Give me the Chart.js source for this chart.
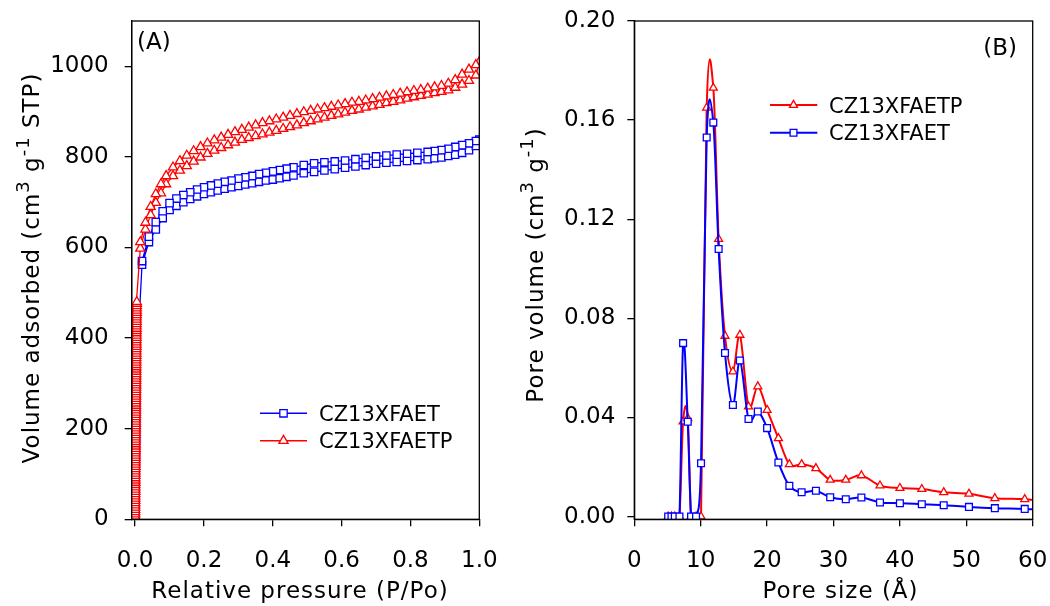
<!DOCTYPE html>
<html>
<head>
<meta charset="utf-8">
<script src="https://cdn.jsdelivr.net/npm/chart.js@4.4.0/dist/chart.umd.min.js"></script>
<style>
  body { margin: 0; background: #fff; }
  #chartA { position: absolute; left: 0; top: 0; }
  #chartB { position: absolute; left: 520px; top: 0; }
</style>
</head>
<body>
<canvas id="chartA" width="520" height="606"></canvas>
<canvas id="chartB" width="530" height="606"></canvas>
<script>
// ---- panel (A): N2 isotherms ----
const seriesA = ['CZ13XFAET', 'CZ13XFAETP']

// near-zero pressure points (dense vertical stack)
const blueStackP = [0.0000, 0.0002, 0.0004, 0.0006, 0.0008, 0.0010, 0.0012, 0.0014, 0.0016, 0.0017, 0.0018, 0.0019, 0.0020, 0.0021,
    0.0022, 0.0023, 0.0024, 0.0025, 0.0026, 0.0027, 0.0028, 0.0029, 0.0030, 0.0031, 0.0032, 0.0034, 0.0036, 0.0040]
const blueStackV = [1, 10, 21, 33, 44, 56, 68, 80, 92, 104, 116, 128, 140, 152,
    164, 176, 188, 200, 212, 224, 236, 248, 260, 272, 284, 296, 308, 320]

const redStackP = [0.00000, 0.00005, 0.00010, 0.00015, 0.00020, 0.00025, 0.00030, 0.00035, 0.00040, 0.00045,
    0.00050, 0.00055, 0.00060, 0.00065, 0.00070, 0.00075, 0.00080, 0.00085, 0.00090, 0.00095,
    0.00100, 0.00105, 0.00110, 0.00115, 0.00120, 0.00125, 0.00130, 0.00135, 0.00140, 0.00145,
    0.00150, 0.00155, 0.00160, 0.00165, 0.00170, 0.00175, 0.00180, 0.00185, 0.00190, 0.00195,
    0.00200, 0.00205, 0.00210, 0.00215, 0.00220, 0.00225, 0.00230, 0.00235, 0.00240, 0.00245,
    0.00250, 0.00255, 0.00260, 0.00265, 0.00270, 0.00275, 0.00280, 0.00285, 0.00290, 0.00295,
    0.00300, 0.00305, 0.00310, 0.00315, 0.00320, 0.00325, 0.00330, 0.00335, 0.00340, 0.00345,
    0.00350, 0.00355, 0.00360, 0.00365, 0.00370, 0.00375, 0.00380, 0.00385, 0.00390, 0.00395,
    0.00400, 0.00405, 0.00410, 0.00415, 0.00420, 0.00425, 0.00430, 0.00435, 0.00440, 0.00445,
    0.00450, 0.00455, 0.00460, 0.00465, 0.00470, 0.00475, 0.00480]
const redStackV = [1, 6, 11, 16, 21, 26, 31, 36, 41, 46,
    51, 56, 61, 66, 71, 76, 81, 86, 91, 96,
    101, 106, 111, 116, 121, 126, 131, 136, 141, 146,
    151, 156, 161, 166, 171, 176, 181, 186, 191, 196,
    201, 206, 211, 216, 221, 226, 231, 236, 241, 246,
    251, 256, 261, 266, 271, 276, 281, 286, 291, 296,
    301, 306, 311, 316, 321, 326, 331, 336, 341, 346,
    351, 356, 361, 366, 371, 376, 381, 386, 391, 396,
    401, 406, 411, 416, 421, 426, 431, 436, 441, 446,
    451, 456, 461, 466, 471, 476, 480]

// CZ13XFAET, adsorption (lower) and desorption (upper) branch
const blueP = [0.02, 0.04, 0.06, 0.08, 0.10, 0.12, 0.14, 0.16, 0.18, 0.20, 0.22, 0.24, 0.26, 0.28, 0.30, 0.32, 0.34, 0.36, 0.38, 0.40,
    0.42, 0.44, 0.46, 0.49, 0.52, 0.55, 0.58, 0.61, 0.64, 0.67, 0.70, 0.73, 0.76, 0.79, 0.82, 0.85, 0.87, 0.89, 0.91, 0.93,
    0.95, 0.97, 0.99, 1.00]
const blueAds = [562, 612, 640, 665, 683, 692, 700, 707, 713, 718, 722, 726, 730, 733, 736, 739, 742, 745, 748, 750,
    753, 756, 759, 764, 767, 770, 773, 776, 779, 782, 785, 787, 789, 791, 793, 795, 797, 799, 802, 805,
    809, 815, 824, 838]
const blueDes = [570, 624, 656, 680, 698, 708, 716, 722, 728, 733, 737, 741, 745, 748, 752, 755, 758, 762, 765, 768,
    771, 774, 777, 782, 786, 788, 790, 792, 795, 798, 801, 803, 805, 807, 809, 811, 813, 815, 818, 822,
    826, 830, 835, 838]

// CZ13XFAETP
const redP = [0.015, 0.03, 0.045, 0.06, 0.075, 0.09, 0.11, 0.13, 0.15, 0.17, 0.19, 0.21, 0.23, 0.25, 0.27, 0.29, 0.31, 0.33,
    0.35, 0.37, 0.39, 0.41, 0.43, 0.45, 0.47, 0.49, 0.51, 0.53, 0.55, 0.57, 0.59, 0.61, 0.63, 0.65, 0.67, 0.69,
    0.71, 0.73, 0.75, 0.77, 0.79, 0.81, 0.83, 0.85, 0.87, 0.89, 0.91, 0.93, 0.95, 0.97, 0.99, 1.00]
const redAds = [598, 640, 672, 699, 720, 740, 758, 770, 780, 790, 799, 807, 814, 820, 826, 832, 838, 842,
    846, 850, 854, 858, 862, 866, 870, 875, 879, 883, 887, 891, 894, 898, 902, 905, 909, 912,
    915, 919, 922, 925, 929, 932, 935, 938, 941, 944, 947, 953, 960, 968, 980, 1010]
const redDes = [612, 655, 690, 718, 740, 758, 777, 791, 803, 813, 822, 830, 837, 843, 849, 855, 860, 865,
    870, 875, 879, 883, 887, 891, 895, 899, 902, 905, 908, 911, 914, 917, 920, 922, 925, 928,
    931, 934, 937, 940, 943, 946, 948, 951, 954, 957, 962, 970, 982, 993, 1003, 1010]

const ticksA_x = [0, 0.2, 0.4, 0.6, 0.8, 1.0]
const ticksA_y = [0, 200, 400, 600, 800, 1000]

// ---- panel (B): pore size distribution ----
const seriesB = ['CZ13XFAETP', 'CZ13XFAET']
const poreSize = [5.1, 5.6, 6.1, 6.8, 7.35, 8.05, 8.55, 9.3, 10.05, 10.9, 11.9, 12.7, 13.66, 14.85, 15.9, 17.2,
    18.6, 20.0, 21.7, 23.35, 25.2, 27.35, 29.5, 31.85, 34.2, 37.0, 40.0, 43.3, 46.6, 50.4, 54.3, 58.8, 63.5]
const poreRed = [0, 0, 0, 0, 0.0383, 0.0397, 0, 0, 0, 0.165, 0.173, 0.112, 0.0729, 0.0585, 0.0733, 0.0444,
    0.0525, 0.043, 0.0316, 0.0211, 0.0211, 0.0195, 0.0148, 0.0148, 0.0166, 0.0125, 0.0115, 0.0111, 0.0098, 0.0092, 0.0074, 0.0070, 0.0058]
const poreBlue = [0, 0, 0, 0, 0.070, 0.0383, 0, 0, 0.0215, 0.153, 0.159, 0.108, 0.066, 0.045, 0.063, 0.0394,
    0.0424, 0.0357, 0.0218, 0.0124, 0.0098, 0.0104, 0.0078, 0.0070, 0.0077, 0.0057, 0.0054, 0.0050, 0.0046, 0.0039, 0.0034, 0.0031, 0.0024]

const ticksB_x = [0, 10, 20, 30, 40, 50, 60]
const ticksB_y = [0, 0.04, 0.08, 0.12, 0.16, 0.20]

const BLUE = '#0000ff'
const RED = '#ff0000'
const FONT = '"DejaVu Sans", Verdana, sans-serif'

function toPoints(xs, ys) {
    return xs.map((x, i) => ({x: x, y: ys[i]}))
}

// isotherm: stack, adsorption up to 1.0, then desorption back down
function loop(stackP, stackV, p, ads, des) {
    const pts = toPoints(stackP, stackV).concat(toPoints(p, ads))
    for (let i = p.length - 2; i >= 0; i--) pts.push({x: p[i], y: des[i]})
    return pts
}

function drawRich(ctx, parts, size, x, y) {
    let cx = x
    parts.forEach(p => {
        ctx.font = (p.sup ? size * 0.78 : size) + 'px ' + FONT
        ctx.fillText(p.t, cx, p.sup ? y - size * 0.42 : y)
        cx += ctx.measureText(p.t).width
    })
}
function richWidth(ctx, parts, size) {
    let w = 0
    parts.forEach(p => {
        ctx.font = (p.sup ? size * 0.78 : size) + 'px ' + FONT
        w += ctx.measureText(p.t).width
    })
    return w
}

// smooth curve through the points (cubic spline in x), drawn under each dataset's markers
const splines = {
    id: 'splines',
    beforeDatasetDraw(chart, args) {
        const ds = chart.data.datasets[args.index]
        if (!ds.spline) return
        const sx = chart.scales.x, sy = chart.scales.y
        const d = ds.data
        const n = d.length
        const m = d.map((p, i) => {
            const a = d[Math.max(i - 1, 0)], b = d[Math.min(i + 1, n - 1)]
            return (b.y - a.y) / (b.x - a.x)
        })
        const ctx = chart.ctx
        const area = chart.chartArea
        ctx.save()
        ctx.beginPath()
        ctx.rect(area.left, area.top, area.right - area.left, area.bottom - area.top)
        ctx.clip()
        ctx.strokeStyle = ds.borderColor
        ctx.lineWidth = ds.borderWidth
        ctx.lineJoin = 'round'
        ctx.beginPath()
        ctx.moveTo(sx.getPixelForValue(d[0].x), sy.getPixelForValue(d[0].y))
        for (let i = 0; i < n - 1; i++) {
            const h = d[i + 1].x - d[i].x
            ctx.bezierCurveTo(
                sx.getPixelForValue(d[i].x + h / 3), sy.getPixelForValue(d[i].y + m[i] * h / 3),
                sx.getPixelForValue(d[i + 1].x - h / 3), sy.getPixelForValue(d[i + 1].y - m[i + 1] * h / 3),
                sx.getPixelForValue(d[i + 1].x), sy.getPixelForValue(d[i + 1].y))
        }
        ctx.stroke()
        ctx.restore()
    }
}

// frame, titles, panel letter and legend
const decor = {
    id: 'decor',
    afterDraw(chart, args, o) {
        const ctx = chart.ctx
        const a = chart.chartArea
        ctx.save()
        ctx.strokeStyle = '#000'
        ctx.lineWidth = 1.3
        ctx.strokeRect(a.left, a.top, a.right - a.left, a.bottom - a.top)

        ctx.fillStyle = '#000'
        ctx.textBaseline = 'alphabetic'
        ctx.letterSpacing = o.spacing
        ctx.font = o.titleSize + 'px ' + FONT
        ctx.textAlign = 'center'
        ctx.fillText(o.xTitle, o.xTitleX, o.xTitleY)
        ctx.textAlign = 'left'

        const w = richWidth(ctx, o.yTitle, o.titleSize)
        ctx.save()
        ctx.translate(o.yTitleX, o.yTitleY)
        ctx.rotate(-Math.PI / 2)
        drawRich(ctx, o.yTitle, o.titleSize, -w / 2, 0)
        ctx.restore()
        ctx.letterSpacing = '0px'

        ctx.font = o.titleSize + 'px ' + FONT
        ctx.textAlign = o.tagAlign
        ctx.fillText(o.tag, o.tagX, o.tagY)
        ctx.textAlign = 'left'

        o.legend.forEach(it => {
            ctx.strokeStyle = it.color
            ctx.lineWidth = it.lw
            ctx.beginPath()
            ctx.moveTo(o.legX0, it.y)
            ctx.lineTo(o.legX1, it.y)
            ctx.stroke()
            ctx.fillStyle = '#fff'
            ctx.lineWidth = 1.3
            Chart.helpers.drawPoint(ctx, {pointStyle: it.style, radius: it.r, rotation: 0, borderWidth: 1.3}, o.legXm, it.y)
            ctx.fillStyle = '#000'
            ctx.font = o.legSize + 'px ' + FONT
            ctx.fillText(it.label, o.legXt, it.y + 7.7)
        })
        ctx.restore()
    }
}

function axis(min, max, step, digits, tickVals, fitKey, fitVal, pad) {
    return {
        type: 'linear', min: min, max: max,
        border: {display: true, color: '#000', width: 1.3},
        grid: {drawOnChartArea: false, drawTicks: true, tickLength: 7, color: '#000', lineWidth: 1.3},
        ticks: {
            stepSize: step, includeBounds: false, color: '#000', padding: pad,
            font: {family: FONT, size: 23},
            callback: v => tickVals.some(t => Math.abs(t - v) < 1e-9) ? Number(v).toFixed(digits) : ''
        },
        afterFit: sc => {
            sc[fitKey] = fitVal
            // plot area is set by layout padding, not by label overflow
            sc.paddingLeft = sc.paddingRight = sc.paddingTop = sc.paddingBottom = 0
        }
    }
}

new Chart(document.getElementById('chartA'), {
    type: 'scatter',
    data: {
        datasets: [{
            label: seriesA[0],
            data: loop(blueStackP, blueStackV, blueP, blueAds, blueDes),
            showLine: true, borderColor: BLUE, borderWidth: 1.3,
            pointStyle: 'rect', pointRadius: 5.2, pointBorderWidth: 1.3,
            pointBorderColor: BLUE, pointBackgroundColor: '#fff', order: 2
        }, {
            label: seriesA[1],
            data: loop(redStackP, redStackV, redP, redAds, redDes),
            showLine: true, borderColor: RED, borderWidth: 1.3,
            pointStyle: 'triangle', pointRadius: 5.3, pointBorderWidth: 1.3,
            pointBorderColor: RED, pointBackgroundColor: '#fff', order: 1
        }]
    },
    options: {
        responsive: false, animation: false,
        layout: {padding: {left: 0, right: 40.7, top: 21, bottom: 0}},
        plugins: {
            legend: {display: false}, tooltip: {enabled: false},
            decor: {
                titleSize: 23, spacing: '1px', xTitle: 'Relative pressure (P/Po)', xTitleX: 300, xTitleY: 598,
                yTitle: [{t: 'Volume adsorbed (cm'}, {t: '3', sup: true}, {t: ' g'}, {t: '-1', sup: true}, {t: ' STP)'}],
                yTitleX: 39, yTitleY: 268,
                tag: '(A)', tagX: 137, tagY: 49, tagAlign: 'left',
                legSize: 21, legX0: 260, legX1: 307, legXm: 283.5, legXt: 319,
                legend: [
                    {label: seriesA[0], color: BLUE, lw: 1.5, style: 'rect', r: 5.2, y: 413.3},
                    {label: seriesA[1], color: RED, lw: 1.5, style: 'triangle', r: 5.3, y: 440.7}
                ]
            }
        },
        scales: {
            x: axis(-0.01, 1.0, 0.2, 1, ticksA_x, 'height', 86.7, 21),
            y: axis(0, 1100, 200, 0, ticksA_y, 'width', 131.7, 16)
        }
    },
    plugins: [decor]
})

new Chart(document.getElementById('chartB'), {
    type: 'scatter',
    data: {
        datasets: [{
            label: seriesB[0],
            data: toPoints(poreSize, poreRed),
            spline: true, showLine: false, borderColor: RED, borderWidth: 2,
            pointStyle: 'triangle', pointRadius: 4.6, pointBorderWidth: 1.3,
            pointBorderColor: RED, pointBackgroundColor: '#fff', order: 2
        }, {
            label: seriesB[1],
            data: toPoints(poreSize, poreBlue),
            spline: true, showLine: false, borderColor: BLUE, borderWidth: 2,
            pointStyle: 'rect', pointRadius: 4.8, pointBorderWidth: 1.3,
            pointBorderColor: BLUE, pointBackgroundColor: '#fff', order: 1
        }]
    },
    options: {
        responsive: false, animation: false,
        layout: {padding: {left: 0, right: 17.3, top: 21, bottom: 0}},
        plugins: {
            legend: {display: false}, tooltip: {enabled: false},
            decor: {
                titleSize: 23, spacing: '1px', xTitle: 'Pore size (Å)', xTitleX: 320.5, xTitleY: 598,
                yTitle: [{t: 'Pore volume (cm'}, {t: '3', sup: true}, {t: ' g'}, {t: '-1', sup: true}, {t: ')'}],
                yTitleX: 23, yTitleY: 265,
                tag: '(B)', tagX: 497, tagY: 55, tagAlign: 'right',
                legSize: 21, legX0: 250, legX1: 297.3, legXm: 273.5, legXt: 309,
                legend: [
                    {label: seriesB[0], color: RED, lw: 2, style: 'triangle', r: 4.6, y: 105},
                    {label: seriesB[1], color: BLUE, lw: 2, style: 'rect', r: 4.8, y: 132.7}
                ]
            }
        },
        scales: {
            x: axis(0, 60, 10, 0, ticksB_x, 'height', 86.7, 21),
            y: axis(-0.0011, 0.2, 0.04, 2, ticksB_y, 'width', 114.3, 12)
        }
    },
    plugins: [splines, decor]
})
</script>
</body>
</html>
